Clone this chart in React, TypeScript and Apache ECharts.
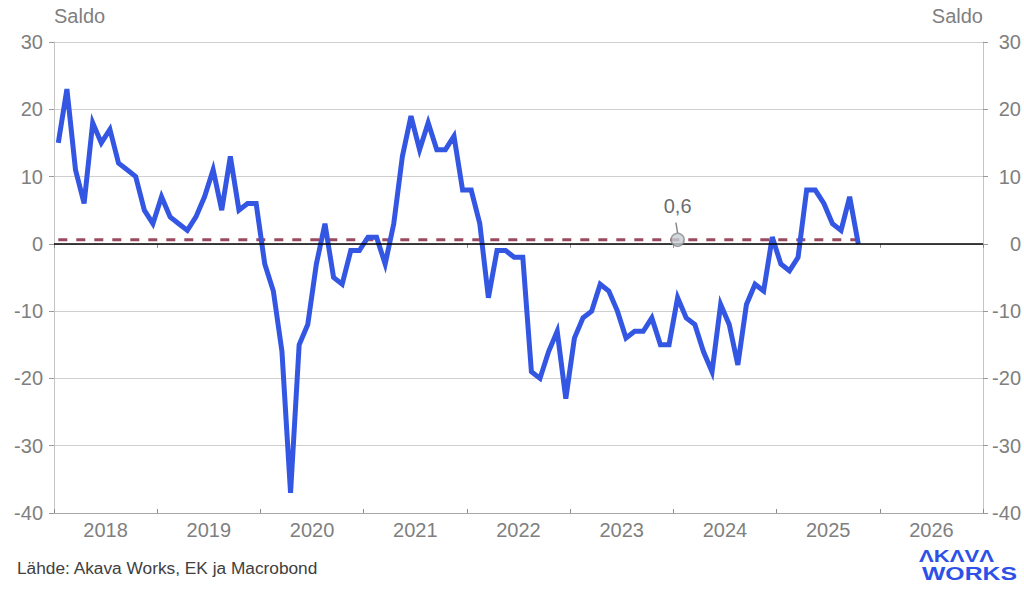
import React, { useEffect, useRef } from 'react';
import * as echarts from 'echarts';

// ---- data ----
const yearLabels = ['2018', '2019', '2020', '2021', '2022', '2023', '2024', '2025', '2026'];
// Monthly balance figures, Jan 2018 – Oct 2025
const saldo = [
  15, 23, 11, 6, 18, 15, 17, 12, 11, 10, 5, 3,
  7, 4, 3, 2, 4, 7, 11, 5, 13, 5, 6, 6,
  -3, -7, -16, -37, -15, -12, -3, 3, -5, -6, -1, -1,
  1, 1, -3, 3, 13, 19, 14, 18, 14, 14, 16, 8,
  8, 3, -8, -1, -1, -2, -2, -19, -20, -16, -13, -23,
  -14, -11, -10, -6, -7, -10, -14, -13, -13, -11, -15, -15,
  -8, -11, -12, -16, -19, -9, -12, -18, -9, -6, -7, 1,
  -3, -4, -2, 8, 8, 6, 3, 2, 7, 0,
];
const averageValue = 0.6;
const averageLabel = '0,6';
const averageMonthIndex = 72; // Jan 2024
const yTicks = { min: -40, max: 30, interval: 10 };
const axisName = 'Saldo';
const sourceText = 'Lähde: Akava Works, EK ja Macrobond';
const logoTop = 'ΛKΛVΛ';
const logoBottom = 'WORKS';

const FONT = '"Liberation Sans", Arial, sans-serif';
const GRAY = '#7f7f7f';
const BLUE = '#3357e3';
const LOGO_BLUE = '#2d50e6';

export default function App() {
  const ref = useRef<HTMLDivElement>(null);

  useEffect(() => {
    if (!ref.current) return;
    const chart = echarts.init(ref.current, null, { renderer: 'svg' });
    const monthsTotal = yearLabels.length * 12;
    const saldoData = saldo.map((v, i) => [i + 0.5, v]);
    const avgData = saldo.map((_, i) => [i + 0.5, averageValue]);
    const avgX = averageMonthIndex + 0.5;

    const yAxisCommon = {
      type: 'value',
      min: yTicks.min,
      max: yTicks.max,
      interval: yTicks.interval,
      name: axisName,
      nameLocation: 'end',
      nameGap: 16,
      axisLine: { show: true, onZero: false, lineStyle: { color: '#c4c4c4', width: 1 } },
      axisTick: { show: true, length: 5, lineStyle: { color: '#9a9a9a' } },
    };

    const option: any = {
      animation: false,
      textStyle: { fontFamily: FONT },
      grid: { left: 54, right: 41, top: 42, bottom: 84, containLabel: false, outerBoundsMode: 'none' },
      xAxis: [
        {
          type: 'value',
          min: 0,
          max: monthsTotal,
          interval: 12,
          axisLine: { show: true, onZero: false, lineStyle: { color: '#a8a8a8', width: 1 } },
          axisTick: { show: true, inside: true, length: 4, lineStyle: { color: '#8a8a8a' } },
          axisLabel: { show: false },
          splitLine: { show: false },
        },
        {
          type: 'category',
          data: yearLabels,
          boundaryGap: true,
          position: 'bottom',
          axisLine: { show: false },
          axisTick: { show: true, length: 4, interval: 0, lineStyle: { color: '#8a8a8a' } },
          axisLabel: { color: GRAY, fontSize: 20, margin: 7, interval: 0, fontFamily: FONT },
          splitLine: { show: false },
        },
      ],
      yAxis: [
        {
          ...yAxisCommon,
          position: 'left',
          nameTextStyle: { color: GRAY, fontSize: 20, align: 'left', fontFamily: FONT },
          axisLabel: { color: GRAY, fontSize: 20, margin: 11, fontFamily: FONT },
          splitLine: { show: true, lineStyle: { color: '#cfcfcf', width: 1 } },
        },
        {
          ...yAxisCommon,
          position: 'right',
          nameTextStyle: { color: GRAY, fontSize: 20, align: 'right', fontFamily: FONT },
          axisLabel: { color: GRAY, fontSize: 20, margin: 38, align: 'right', fontFamily: FONT },
          splitLine: { show: false },
        },
      ],
      series: [
        {
          type: 'line',
          name: 'Keskiarvo',
          data: avgData,
          symbol: 'none',
          z: 2,
          lineStyle: { color: '#9a4a5e', width: 3, type: [9, 9] },
          markLine: {
            silent: true,
            symbol: ['none', 'none'],
            label: { show: false },
            lineStyle: { color: '#000', width: 1.5, type: 'solid' },
            data: [{ yAxis: 0 }],
          },
        },
        {
          type: 'line',
          name: 'Saldo',
          data: saldoData,
          symbol: 'none',
          z: 3,
          lineStyle: { color: BLUE, width: 5, join: 'miter' },
        },
        {
          type: 'scatter',
          data: [[avgX, averageValue]],
          symbol: 'circle',
          symbolSize: 13,
          z: 5,
          itemStyle: { color: '#c8cdd6', borderColor: '#888', borderWidth: 1.5 },
          label: {
            show: true,
            position: 'top',
            distance: 17,
            formatter: averageLabel,
            color: '#444',
            fontSize: 20,
            fontFamily: FONT,
          },
          markLine: {
            silent: true,
            symbol: ['none', 'none'],
            label: { show: false },
            lineStyle: { color: '#8a8a8a', width: 1.5, type: 'solid' },
            data: [[
              { coord: [avgX - 0.2, averageValue + 2.56] },
              { coord: [avgX, averageValue + 0.99] },
            ]],
          },
        },
      ],
      graphic: [
        {
          type: 'text',
          left: 17,
          top: 559,
          style: { text: sourceText, font: `17.3px ${FONT}`, fill: '#404040' },
        },
        {
          type: 'text',
          x: 919,
          y: 556,
          scaleX: 1.3,
          style: { text: logoTop, font: `bold 17px ${FONT}`, fill: LOGO_BLUE, textVerticalAlign: 'middle' },
        },
        {
          type: 'text',
          x: 922,
          y: 574,
          scaleX: 1.4,
          style: { text: logoBottom, font: `bold 17.7px ${FONT}`, fill: LOGO_BLUE, textVerticalAlign: 'middle' },
        },
      ],
    };

    chart.setOption(option);
    return () => chart.dispose();
  }, []);

  return (
    <div
      ref={ref}
      style={{ position: 'fixed', left: 0, top: 0, width: 1024, height: 597, background: '#fff' }}
    />
  );
}
